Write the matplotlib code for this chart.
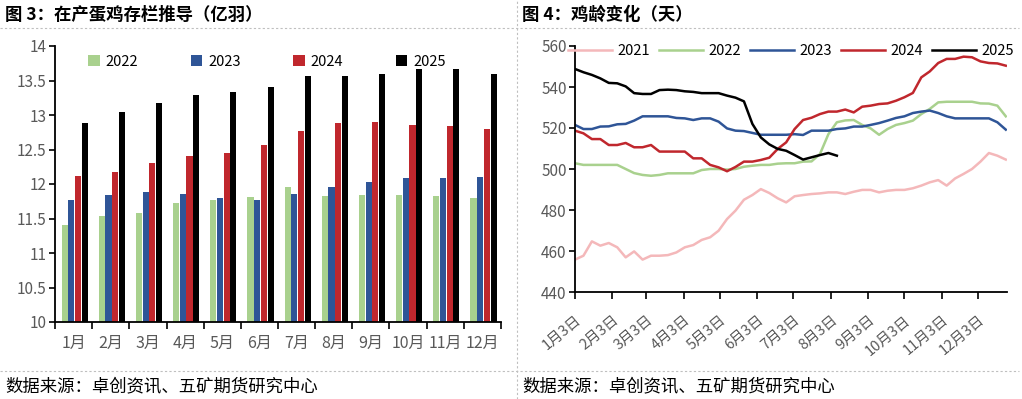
import matplotlib.pyplot as plt
from matplotlib.lines import Line2D
import numpy as np
import pandas as pd

plt.rcParams['font.family'] = ['Noto Sans CJK SC', 'DejaVu Sans']

# =========================
# 图3 data: 在产蛋鸡存栏 (亿羽)
# =========================
months = ["1月", "2月", "3月", "4月", "5月", "6月", "7月", "8月", "9月", "10月", "11月", "12月"]
stock_2022 = [11.40, 11.53, 11.58, 11.73, 11.77, 11.81, 11.95, 11.82, 11.84, 11.84, 11.82, 11.79]
stock_2023 = [11.77, 11.84, 11.88, 11.86, 11.79, 11.77, 11.86, 11.95, 12.03, 12.08, 12.08, 12.10]
stock_2024 = [12.12, 12.18, 12.31, 12.40, 12.45, 12.56, 12.77, 12.88, 12.90, 12.86, 12.84, 12.80]
stock_2025 = [12.88, 13.05, 13.18, 13.29, 13.34, 13.40, 13.56, 13.57, 13.60, 13.66, 13.66, 13.60]

# =========================
# 图4 data: 鸡龄 (天), weekly from 1月3日
# =========================
age_2021 = [455.8, 457.7, 464.7, 462.6, 463.9, 461.8, 456.9, 459.8, 455.8, 457.7,
            457.7, 458.0, 459.3, 461.8, 462.9, 465.4, 466.7, 469.9, 475.6, 479.7,
            485.0, 487.3, 490.2, 488.3, 485.7, 483.7, 486.7, 487.3, 487.8, 488.1,
            488.6, 488.6, 487.8, 488.9, 489.8, 489.8, 488.6, 489.4, 489.8, 489.8,
            490.6, 491.9, 493.5, 494.6, 491.9, 495.4, 497.6, 500.0, 503.6, 507.8,
            506.5, 504.6]
age_2022 = [502.8, 502.0, 502.0, 502.0, 502.0, 502.0, 500.0, 498.0, 497.1, 496.7,
            497.1, 497.9, 497.9, 497.9, 497.9, 499.5, 500.0, 500.0, 499.7, 500.0,
            501.1, 501.6, 502.0, 502.0, 502.6, 502.8, 502.8, 503.6, 503.7, 507.3,
            517.0, 522.8, 523.7, 523.9, 521.5, 519.8, 516.7, 519.5, 521.5, 522.4,
            523.6, 526.8, 529.3, 532.5, 532.8, 532.8, 532.8, 532.8, 532.0, 531.9,
            530.9, 525.7]
age_2023 = [521.5, 519.5, 519.5, 520.7, 520.8, 521.8, 522.0, 523.6, 525.7, 525.7,
            525.7, 525.7, 524.9, 524.7, 523.9, 524.7, 524.7, 523.1, 519.8, 518.7,
            518.5, 517.6, 516.7, 516.7, 516.7, 516.7, 517.0, 516.6, 518.7, 518.7,
            518.7, 519.5, 519.8, 520.7, 520.7, 521.5, 522.4, 523.6, 524.9, 525.7,
            527.3, 528.0, 528.5, 527.3, 525.7, 524.7, 524.7, 524.7, 524.7, 524.7,
            522.8, 519.2]
age_2024 = [518.7, 517.4, 514.6, 514.6, 511.7, 511.7, 512.7, 510.6, 510.6, 511.7,
            508.5, 508.5, 508.5, 508.5, 505.2, 505.2, 502.0, 500.8, 498.9, 501.0,
            503.6, 503.6, 504.4, 505.5, 509.8, 513.0, 519.5, 523.9, 525.0, 526.8,
            528.0, 528.0, 529.0, 527.6, 530.4, 530.9, 531.7, 532.0, 533.3, 535.0,
            537.1, 544.7, 547.6, 551.7, 553.7, 553.7, 554.8, 554.5, 552.5, 551.7,
            551.5, 550.4]
age_2025 = [548.8, 547.2, 545.9, 544.2, 542.0, 541.8, 540.3, 537.0, 536.6, 536.6,
            538.5, 538.7, 538.5, 537.9, 537.6, 537.0, 537.0, 537.0, 535.8, 534.8,
            533.0, 522.0, 515.4, 512.0, 509.8, 508.9, 506.8, 504.6, 505.7, 506.8,
            507.8, 506.5]
age_dates = pd.date_range("2023-01-03", periods=52, freq="7D")
tick_dates = pd.date_range("2023-01-01", periods=12, freq="MS") + pd.Timedelta(days=2)
tick_labels = [f"{m}月3日" for m in range(1, 13)]

c_2021 = "#F4B8BA"
c_2022 = "#A9D18E"
c_2023 = "#2F5597"
c_2024 = "#C0272D"
c_2025 = "#000000"
tick_color = "#595959"

fig = plt.figure(figsize=(10.22, 3.99), dpi=100)

# frame lines (dashed separators)
fig.add_artist(Line2D([0, 1019 / 1022], [1 - 28 / 399] * 2, color="#BFBFBF", lw=0.8, ls=(0, (2, 2))))
fig.add_artist(Line2D([0, 1019 / 1022], [1 - 371 / 399] * 2, color="#BFBFBF", lw=0.8, ls=(0, (2, 2))))
fig.add_artist(Line2D([517 / 1022] * 2, [0, 1], color="#BFBFBF", lw=0.8, ls=(0, (2, 2))))

fig.text(5 / 1022, 1 - 15 / 399, "图 3：在产蛋鸡存栏推导（亿羽）", fontsize=12.5, fontweight="bold", va="center")
fig.text(522 / 1022, 1 - 15 / 399, "图 4：鸡龄变化（天）", fontsize=12.5, fontweight="bold", va="center")
fig.text(5 / 1022, 1 - 386 / 399, "数据来源：卓创资讯、五矿期货研究中心", fontsize=12.5, va="center")
fig.text(522 / 1022, 1 - 386 / 399, "数据来源：卓创资讯、五矿期货研究中心", fontsize=12.5, va="center")

# =========================
# Left: bar chart
# =========================
ax1 = fig.add_axes([55 / 1022, 1 - 322 / 399, 446 / 1022, 276 / 399])
x = np.arange(len(months))
pitch = 0.18
width = 0.165
series = [("2022", stock_2022, c_2022), ("2023", stock_2023, c_2023),
          ("2024", stock_2024, c_2024), ("2025", stock_2025, c_2025)]
for i, (name, vals, col) in enumerate(series):
    ax1.bar(x + (i - 1.5) * pitch + 0.03, vals, width=width, color=col, label=name)

ax1.set_ylim(10, 14)
ax1.set_xlim(-0.5, 11.5)
ax1.set_yticks(np.arange(10, 14.01, 0.5))
ax1.set_yticklabels([f"{v:g}" for v in np.arange(10, 14.01, 0.5)])
ax1.set_xticks(np.arange(-0.5, 12, 1))
ax1.set_xticklabels([])
ax1.set_xticks(x, minor=True)
ax1.set_xticklabels(months, minor=True)
ax1.tick_params(axis="x", which="minor", length=0, pad=9, labelsize=11.5, labelcolor=tick_color)
ax1.tick_params(axis="x", which="major", length=5, width=1.2, direction="out")
ax1.tick_params(axis="y", length=4, width=1.2, labelsize=11, labelcolor=tick_color, pad=2)
for s in ["top", "right"]:
    ax1.spines[s].set_visible(False)
for s in ["left", "bottom"]:
    ax1.spines[s].set_linewidth(1.3)
ax1.legend(loc="upper center", bbox_to_anchor=(0.475, 1.0), ncol=4, frameon=False,
           fontsize=10.5, handlelength=0.8, handleheight=0.8, handletextpad=0.4,
           columnspacing=3.6, borderaxespad=0.2)

# =========================
# Right: line chart
# =========================
ax2 = fig.add_axes([575 / 1022, 1 - 292 / 399, 432 / 1022, 246 / 399])
ax2.plot(age_dates, age_2021, color=c_2021, lw=1.8, label="2021")
ax2.plot(age_dates, age_2022, color=c_2022, lw=1.8, label="2022")
ax2.plot(age_dates, age_2023, color=c_2023, lw=1.8, label="2023")
ax2.plot(age_dates, age_2024, color=c_2024, lw=1.8, label="2024")
ax2.plot(age_dates[:len(age_2025)], age_2025, color=c_2025, lw=1.8, label="2025")

ax2.set_ylim(440, 560)
ax2.set_yticks(np.arange(440, 561, 20))
ax2.set_xlim(age_dates[0], age_dates[-1] + pd.Timedelta(days=1))
ax2.set_xticks(tick_dates)
ax2.set_xticklabels(tick_labels, rotation=40, ha="right", va="top", rotation_mode="anchor")
ax2.tick_params(axis="x", length=5, width=1.2, labelsize=10.5, labelcolor=tick_color, pad=10)
ax2.tick_params(axis="y", length=4, width=1.2, labelsize=11, labelcolor=tick_color, pad=2)
for s in ["top", "right"]:
    ax2.spines[s].set_visible(False)
for s in ["left", "bottom"]:
    ax2.spines[s].set_linewidth(1.3)
ax2.legend(loc="upper center", bbox_to_anchor=(0.5, 1.03), ncol=5, frameon=False,
           fontsize=10.5, handlelength=3.0, handletextpad=0.4, columnspacing=0.6,
           borderaxespad=0.0)

plt.savefig("out.png", dpi=100)
